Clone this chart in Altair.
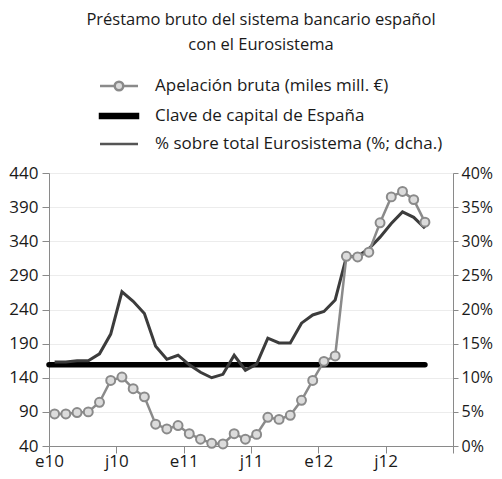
import altair as alt
import pandas as pd

# ---- data ----
meses = list(range(34))  # Jan 2010 .. Oct 2012
apelacion = [87, 87, 89, 90, 104, 136, 141, 124, 112, 72, 65, 70, 58, 50, 44, 43, 58, 50,
             57, 82, 79, 85, 107, 136, 164, 172, 318, 317, 324, 367, 405, 413, 401, 368]
porcentaje = [12.3, 12.3, 12.5, 12.5, 13.5, 16.4, 22.6, 21.2, 19.4, 14.6, 12.7, 13.3, 11.9,
              10.8, 10.0, 10.5, 13.3, 11.1, 12.0, 15.8, 15.1, 15.1, 18.0, 19.2, 19.7, 21.4,
              27.7, 27.8, 28.9, 30.6, 32.6, 34.3, 33.5, 31.9]
clave_capital = 11.9
tick_meses = [0, 6, 12, 18, 24, 30, 36]
tick_labels = ["e10", "j10", "e11", "j11", "e12", "j12", ""]
series = ["Apelación bruta (miles mill. €)", "Clave de capital de España",
          "% sobre total Eurosistema (%; dcha.)"]
titulo = ["Préstamo bruto del sistema bancario español", "con el Eurosistema"]

FONT = "Open Sans"
C_AP = "#8a8a8a"
C_AP_FILL = "#dcdcdc"
C_PCT = "#3c3c3c"
TXT = "#1a1a1a"

df = pd.DataFrame({"mes": [m + 0.5 for m in meses], "apelacion": apelacion, "pct": porcentaje})
df_clave = pd.DataFrame({"mes": [meses[0], meses[-1] + 0.5],
                         "pct": [clave_capital, clave_capital]})

label_expr = "{" + ",".join(f"'{v}':'{l}'" for v, l in zip(tick_meses, tick_labels)) + "}[datum.value]"

x_enc = alt.X("mes:Q", scale=alt.Scale(domain=[0, 36], nice=False, zero=False),
              axis=alt.Axis(values=tick_meses, labelExpr=label_expr, title=None, grid=False,
                            tickSize=7, labelPadding=0, labelFlush=False,
                            domainColor="#8a8a8a", tickColor="#8a8a8a", labelFontSize=17,
                            labelFont=FONT, labelColor=TXT))

left_axis = alt.Axis(orient="left", values=list(range(40, 441, 50)), title=None,
                     grid=True, gridColor="#ececec", tickSize=7, labelPadding=4,
                     labelFlush=False,
                     domainColor="#8a8a8a", tickColor="#8a8a8a", labelFontSize=17,
                     labelFont=FONT, labelColor=TXT)
right_axis = alt.Axis(orient="right", values=list(range(0, 41, 5)), title=None,
                      grid=False, tickSize=5, labelPadding=3, labelFlush=False,
                      labelExpr="datum.value + '%'",
                      domainColor="#8a8a8a", tickColor="#8a8a8a", labelFontSize=16,
                      labelFont=FONT, labelColor=TXT)
y_left = alt.Scale(domain=[40, 440], nice=False, zero=False)
y_right = alt.Scale(domain=[0, 40], nice=False, zero=False)

clave_line = alt.Chart(df_clave).mark_line(color="#000000", strokeWidth=5.5, strokeCap="round").encode(
    x=x_enc, y=alt.Y("pct:Q", scale=y_right, axis=right_axis))
pct_line = alt.Chart(df).mark_line(color=C_PCT, strokeWidth=3).encode(
    x=x_enc, y=alt.Y("pct:Q", scale=y_right, axis=right_axis))
right = alt.layer(clave_line, pct_line)

ap_line = alt.Chart(df).mark_line(color=C_AP, strokeWidth=2.5).encode(
    x=x_enc, y=alt.Y("apelacion:Q", scale=y_left, axis=left_axis))
ap_pts = alt.Chart(df).mark_point(filled=True, fill=C_AP_FILL, stroke=C_AP, strokeWidth=2,
                                  size=80, opacity=1, shape="circle").encode(
    x=x_enc, y=alt.Y("apelacion:Q", scale=y_left, axis=left_axis))
left = alt.layer(ap_line, ap_pts)

# legend-only layer
paths = [
    "M-2,0H-0.45 M0.45,0H2 M-0.45,0A0.45,0.45 0 1,1 0.45,0A0.45,0.45 0 1,1 -0.45,0Z",
    "M-2,-0.2H2V0.2H-2Z",
    "M-2,0H2",
]
leg_df = pd.DataFrame({"serie": series})
leg = alt.Legend(title=None, orient="none", legendX=59, legendY=-98, padding=0,
                 symbolSize=361, symbolStrokeWidth=2.5, labelOffset=25, rowPadding=9,
                 labelFontSize=17, labelFont=FONT, labelColor=TXT, labelLimit=400)
legend_layer = alt.Chart(leg_df).mark_point(filled=True, size=361, strokeWidth=2.5, opacity=1).encode(
    shape=alt.Shape("serie:N", scale=alt.Scale(domain=series, range=paths), legend=leg),
    stroke=alt.Stroke("serie:N", scale=alt.Scale(domain=series, range=[C_AP, "#000000", "#555555"]), legend=leg),
    fill=alt.Fill("serie:N", scale=alt.Scale(domain=series, range=[C_AP_FILL, "#000000", "transparent"]), legend=leg),
).transform_filter("false")

chart = alt.layer(right, left, legend_layer).resolve_scale(y="independent").properties(
    width=404, height=273,
    padding={"left": 41, "top": 165, "right": 41, "bottom": 25},
    autosize=alt.AutoSizeParams(type="none"),
    title=alt.TitleParams(text=titulo, fontSize=16.5, font=FONT, fontWeight="normal",
                          anchor="middle", frame="group", dx=10, offset=22,
                          lineHeight=25, color=TXT),
).configure_view(stroke=None).configure(background="white")

chart.save("out.html", embed_options={"renderer": "svg", "actions": False})
